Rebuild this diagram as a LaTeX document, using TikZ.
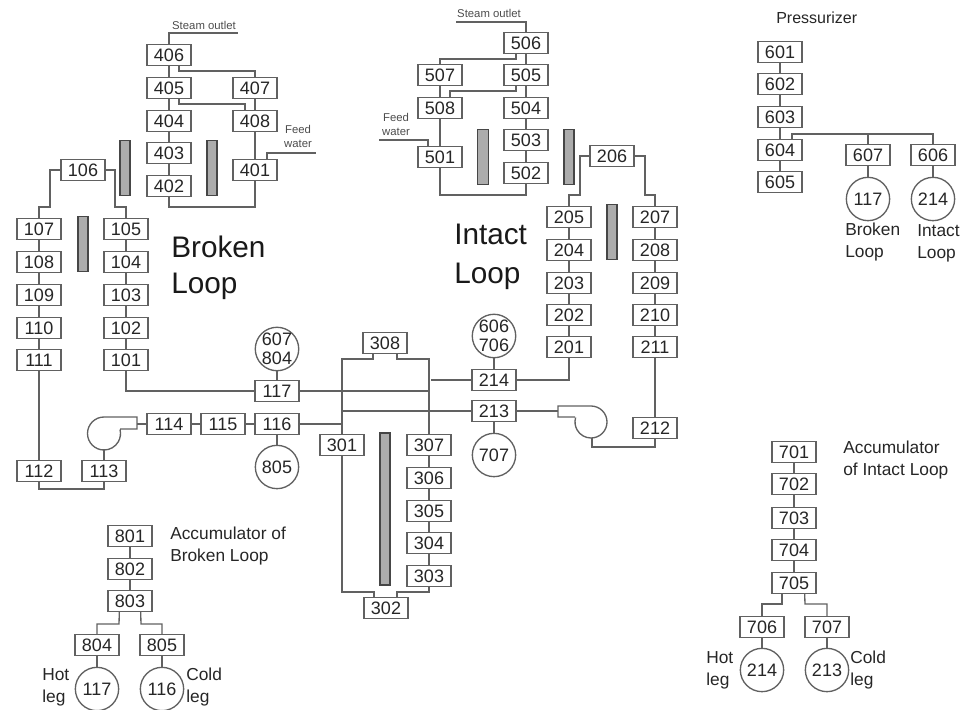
\documentclass[tikz,border=0pt]{standalone}
\usepackage{fontspec}
\setmainfont{Liberation Sans}
\usetikzlibrary{backgrounds}
\definecolor{ln}{gray}{0.38}
\definecolor{txt}{gray}{0.15}
\tikzset{
  box/.style={draw=ln,line width=1pt,fill=white,minimum width=33pt,minimum height=15.5pt,inner sep=0pt,font=\fontsize{13.5}{14}\selectfont,text=txt},
  port/.style={draw=ln,line width=1pt,fill=white,circle,minimum size=32.5pt,inner sep=0pt,align=center,font=\fontsize{13.5}{14}\selectfont,text=txt},
  pipe/.style={draw=ln,line width=1pt,line join=miter},
  rod/.style={draw=gray!55!black,line width=.8pt,fill=gray!65,minimum width=7.5pt,inner sep=0pt},
  bigb/.style={font=\fontsize{22.3}{27}\selectfont,align=left,anchor=north west,inner sep=0pt,text=black!90},
  bigi/.style={font=\fontsize{22.3}{29}\selectfont,align=left,anchor=north west,inner sep=0pt,text=black!90},
  lab/.style={font=\fontsize{13}{16.5}\selectfont,align=left,anchor=north west,inner sep=0pt,text=txt},
  tiny/.style={font=\fontsize{8.5}{10.5}\selectfont,align=center,inner sep=0pt,text=gray!60!black},
}
\begin{document}
\begin{tikzpicture}[x=0.75pt,y=-0.75pt]
\useasboundingbox (0,0) rectangle (967,710);
% Boxes
\foreach \n/\p in {
406/{169,55},405/{169,88},404/{169,121},403/{169,153},402/{169,186},
407/{255,88},408/{255,121},401/{255,170},
106/{83,170},105/{126,229},104/{126,262},103/{126,295},102/{126,328},101/{126,360},
107/{39,229},108/{39,262},109/{39,295},110/{39,328},111/{39,360},
117/{277,391},116/{277,424},115/{223,424},114/{169,424},113/{104,471},112/{39,471},
301/{342,445},308/{385,343},307/{429,445},306/{429,478},305/{429,511},304/{429,543},303/{429,576},302/{386,608},
214/{494,380},213/{494,411},
201/{569,347},202/{569,315},203/{569,283},204/{569,250},205/{569,217},206/{612,156},
207/{655,217},208/{655,250},209/{655,283},210/{655,315},211/{655,347},212/{655,428},
506/{526,43},505/{526,75},504/{526,108},503/{526,140},502/{526,173},507/{440,75},508/{440,108},501/{440,157},
601/{780,52},602/{780,84},603/{780,117},604/{780,150},605/{780,182},
801/{130,536},802/{130,569},803/{130,601},804/{97,645},805/{162,645},
701/{794,452},702/{794,484},703/{794,518},704/{794,550},705/{794,583},706/{762,627},707/{827,627}}
{\node[box] (n\n) at (\p) {\n};}
\node[box] (p607) at (868,155) {607};
\node[box] (p606) at (933,155) {606};
\node[port] (cp117) at (868,199) {117};
\node[port] (cp214) at (933,199) {214};
\node[port] (ca117) at (97,689) {117};
\node[port] (ca116) at (162,689) {116};
\node[port] (cb214) at (762,670) {214};
\node[port] (cb213) at (827,670) {213};
\node[port] (c607) at (277,349) {607\\804};
\node[port] (c805) at (277,467) {805};
\node[port] (c606) at (494,336) {606\\706};
\node[port] (c707) at (494,455) {707};
% Pumps
\coordinate (pumpL) at (104,433);
\coordinate (pumpLm) at (137,424);
\coordinate (pumpR) at (591,422);
\coordinate (pumpRm) at (558,411);
\draw[pipe] (120,429) -- (137,429) -- (137,417) -- (104,417) arc[start angle=270,end angle=-14,radius=16.5];
\draw[pipe] (575,417) -- (558,417) -- (558,406) -- (591,406) arc[start angle=270,end angle=556,radius=16];
% Rods
\node[rod,minimum height=41pt] (r1) at (125,168) {};
\node[rod,minimum height=41pt] (r2) at (212,168) {};
\node[rod,minimum height=41pt] (r3) at (83,244) {};
\node[rod,minimum height=41pt,minimum width=8.5pt] (r4) at (483,157) {};
\node[rod,minimum height=41pt] (r5) at (569,157) {};
\node[rod,minimum height=41pt] (r6) at (612,232) {};
\node[rod,minimum height=114pt] (r7) at (385,509) {};
% Connectors
\begin{scope}[on background layer]
\foreach \a/\b in {406/405,405/404,404/403,403/402,407/408,408/401,
105/104,104/103,103/102,102/101,107/108,108/109,109/110,110/111,111/112,
307/306,306/305,305/304,304/303,
205/204,204/203,203/202,202/201,207/208,208/209,209/210,210/211,211/212,
506/505,505/504,504/503,503/502,507/508,508/501,
601/602,602/603,603/604,604/605,
801/802,802/803,701/702,702/703,703/704,704/705,
116/115,115/114}
{\draw[pipe] (n\a) -- (n\b);}
\draw[pipe] (n402.south) -- (169,207) -- (255,207) -- (n401.south);
\draw[pipe] (n406) -- (169,33) -- (238,33);
\node[tiny] (st1) at (204,25) {Steam outlet};
\draw[pipe] ([xshift=7.5pt]n406.south) -- (179,71) -- (255,71) -- (n407.north);
\draw[pipe] ([xshift=7.5pt]n405.south) -- (179,104) -- (245,104) -- ([xshift=-7.5pt]n408.north);
\draw[pipe] ([xshift=9pt]n401.north) -- (267,153) -- (316,153);
\node[tiny] (fw1) at (298,136) {Feed\\water};
\draw[pipe] (n106) -- (50,170) -- (50,207) -- (39,207) -- (n107);
\draw[pipe] (n106) -- (115,170) -- (115,207) -- (126,207) -- (n105);
\draw[pipe] (n101.south) |- (n117.west);
\draw[pipe] (n117) -- (c607);
\draw[pipe] (n116) -- (c805);
\draw[pipe] (n112.south) -- (39,489) -- (104,489) -- (n113.south);
\draw[pipe] (n113.north) -- (104,449);
\draw[pipe] (pumpLm) -- (n114);
\draw[pipe] (n117) -- (429,391);
\draw[pipe] (n116) -- (342,424);
\draw[pipe] (n301) -- (342,359) -- (373,359) -- (373,354);
\draw[pipe] (n307) -- (429,359) -- (397,359) -- (397,354);
\draw[pipe] (n301.south) -- (342,592) -- (374,592) -- (374,597);
\draw[pipe] (n303.south) -- (429,592) -- (397,592) -- (397,597);
\draw[pipe] (n214) -- (431,380);
\draw[pipe] (n213) -- (342,411);
\draw[pipe] (n214) -- (c606);
\draw[pipe] (n213) -- (c707);
\draw[pipe] (n201.south) |- (n214.east);
\draw[pipe] (n213) -- (pumpRm);
\draw[pipe] (592,438) -- (592,447) -- (655,447) -- (n212.south);
\draw[pipe] (n206) -- (580,156) -- (580,195) -- (569,195) -- (n205);
\draw[pipe] (n206) -- (645,156) -- (645,195) -- (655,195) -- (n207);
\draw[pipe] (n506) -- (526,22) -- (456,22);
\node[tiny] (st2) at (489,13) {Steam outlet};
\draw[pipe] ([xshift=-7.5pt]n506.south) -- (516,59) -- (440,59) -- (n507.north);
\draw[pipe] ([xshift=-7.5pt]n505.south) -- (516,91) -- (450,91) -- ([xshift=7.5pt]n508.north);
\draw[pipe] ([xshift=-9pt]n501.north) -- (428,140) -- (379,140);
\node[tiny] (fw2) at (396,124) {Feed\\water};
\draw[pipe] (n502.south) -- (526,195) -- (440,195) -- (n501.south);
\draw[pipe] ([xshift=9pt]n604.north) -- (792,134) -- (933,134) -- (p606);
\draw[pipe] (868,134) -- (p607);
\draw[pipe] (p607) -- (cp117);
\draw[pipe] (p606) -- (cp214);
\draw[pipe] ([xshift=-8pt]n803.south) -- (119,624) -- (97,624) -- (n804);
\draw[pipe] ([xshift=8pt]n803.south) -- (141,624) -- (162,624) -- (n805);
\draw[pipe] (n804) -- (ca117);
\draw[pipe] (n805) -- (ca116);
\draw[pipe] ([xshift=-9pt]n705.south) -- (782,604) -- (762,604) -- (n706);
\draw[pipe] ([xshift=8pt]n705.south) -- (805,604) -- (827,604) -- (n707);
\draw[pipe] (n706) -- (cb214);
\draw[pipe] (n707) -- (cb213);
\end{scope}
% Labels
\node[bigb] (tb) at (171,236) {Broken\\Loop};
\node[bigi] (ti) at (454,224) {Intact\\Loop};
\node[lab,font=\fontsize{12}{14}\selectfont] (tp) at (776,12) {Pressurizer};
\node[lab] (l1) at (845,223) {Broken\\Loop};
\node[lab] (l2) at (917,224) {Intact\\Loop};
\node[lab] (l3) at (170,527) {Accumulator of\\Broken Loop};
\node[lab] (l4) at (843,441) {Accumulator\\of Intact Loop};
\node[lab] (l5) at (42,668) {Hot\\leg};
\node[lab] (l6) at (186,668) {Cold\\leg};
\node[lab] (l7) at (706,651) {Hot\\leg};
\node[lab] (l8) at (850,651) {Cold\\leg};
\end{tikzpicture}
\end{document}
